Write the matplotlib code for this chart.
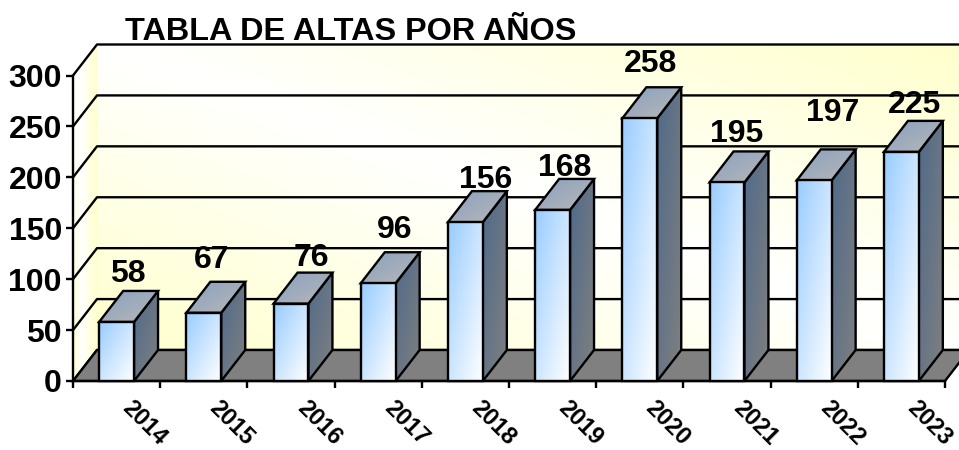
import matplotlib
matplotlib.use('Agg')
import matplotlib.pyplot as plt
import numpy as np
from matplotlib.colors import to_rgb
from matplotlib.patches import Polygon
from matplotlib.transforms import ScaledTranslation

plt.rcParams['font.family'] = ['Liberation Sans', 'DejaVu Sans']
plt.rcParams['font.weight'] = 'bold'

anios = ['2014', '2015', '2016', '2017', '2018', '2019', '2020', '2021', '2022', '2023']
altas = [58, 67, 76, 96, 156, 168, 258, 195, 197, 225]
titulo = 'TABLA DE ALTAS POR AÑOS'
ticks_y = [0, 50, 100, 150, 200, 250, 300]

# desplazamiento de cada etiqueta respecto al frente de la barra, en pixeles
nudge_x = [11, 8, 20, 16, 20, 12, 11, 10, 18, 13]
nudge_y = [48, 53, 46, 53, 42, 42, 54, 48, 67, 47]

W, H = 959, 450
AMARILLO = np.array(to_rgb('#FFFFCC'))
LW = 1.7

fig = plt.figure(figsize=(W/100, H/100), dpi=100)
ax = fig.add_axes([73/W, 1-381/H, 872/W, 305.5/H])
n = len(anios)

# profundidad 3D en unidades de datos
dx = 24/87.2
dy = 31/(305.5/300)
ancho = 0.40
margen = (1-ancho)/2


def pintar(img, xs, ys, z, borde=True):
    im = ax.imshow(img, extent=(min(xs), max(xs), min(ys), max(ys)), aspect='auto',
                   origin='upper', zorder=z, interpolation='bilinear')
    pol = Polygon(np.column_stack([xs, ys]), closed=True, transform=ax.transData)
    im.set_clip_path(pol)
    im.set_clip_box(fig.bbox)
    if borde:
        ax.add_patch(Polygon(np.column_stack([xs, ys]), closed=True, fc='none', ec='black',
                             lw=LW, zorder=z+0.01, clip_on=False))


def degradado(xs, ys, c_ini, c_fin, z):
    # cara con degradado diagonal, arriba-izq a abajo-der
    u, v = np.meshgrid(np.linspace(0, 1, 64), np.linspace(0, 1, 64))
    t = ((u+v)/2)[..., None]
    img = np.array(to_rgb(c_ini))*(1-t)+np.array(to_rgb(c_fin))*t
    pintar(img, xs, ys, z)


# pared del fondo
u, v = np.meshgrid(np.linspace(0, 1, 128), np.linspace(1, 0, 128))
t = np.abs((u+v)/2-0.5)*2
fondo = 1-(1-AMARILLO)*t[..., None]
pintar(fondo, [dx, n+dx, n+dx, dx], [dy, dy, 300+dy, 300+dy], 1.0, borde=False)

# pared lateral
u, v = np.meshgrid(np.linspace(0, 1, 64), np.linspace(1, 0, 64))
t = np.where(u > 0.35, (u-0.35)/0.65, (0.35-u)/0.35*(1-v))
lateral = 1-(1-AMARILLO)*np.clip(t, 0, 1)[..., None]
pintar(lateral, [0, dx, dx, 0], [0, dy, 300+dy, 300], 1.0, borde=False)

# rejilla
for val in ticks_y:
    ax.plot([0, dx, n+dx], [val, val+dy, val+dy], color='black', lw=LW, zorder=1.1, clip_on=False)

# suelo
ax.add_patch(Polygon([(0, 0), (n, 0), (n+dx, dy), (dx, dy)], closed=True, fc='#808080', ec='black',
                     lw=LW, zorder=1.2, clip_on=False))

# barras
for i, val in enumerate(altas):
    x0 = i+margen
    x1 = x0+ancho
    z = 3+i*0.1
    degradado([x1, x1+dx, x1+dx, x1], [0, dy, val+dy, val], '#4F6A8A', '#808080', z)
    degradado([x0, x1, x1+dx, x0+dx], [val, val, val+dy, val+dy], '#88A0BF', '#B8B8B8', z+0.02)
    degradado([x0, x1, x1, x0], [0, 0, val, val], '#99CCFF', '#FFFFFF', z+0.04)
    ax.annotate(str(val), (i+0.5, val), xytext=(nudge_x[i], nudge_y[i]), textcoords='offset pixels',
                ha='center', va='center', fontsize=23, color='black', zorder=10, annotation_clip=False)

ax.set_xlim(0, n)
ax.set_ylim(0, 300)
ax.patch.set_visible(False)
ax.spines['top'].set_visible(False)
ax.spines['right'].set_visible(False)
ax.spines['left'].set_linewidth(LW)
ax.spines['bottom'].set_linewidth(LW)

ax.set_yticks(ticks_y)
ax.tick_params(axis='y', length=5, width=LW, pad=3, labelsize=23)
ax.set_xticks(range(n+1))
ax.set_xticklabels([])
ax.tick_params(axis='x', which='major', length=5, width=LW)
ax.set_xticks(np.arange(n)+0.5, minor=True)
ax.set_xticklabels(anios, minor=True, rotation=-45, ha='center', va='center', fontsize=17)
ax.tick_params(axis='x', which='minor', length=0, pad=30)
corrimiento = ScaledTranslation(28/100, 0, fig.dpi_scale_trans)
for lab in ax.get_xticklabels(minor=True):
    lab.set_transform(lab.get_transform()+corrimiento)

fig.text(125/W, 1-39.5/H, titulo, fontsize=23.3, va='baseline', ha='left', color='black')

plt.savefig('out.png', dpi=100)
